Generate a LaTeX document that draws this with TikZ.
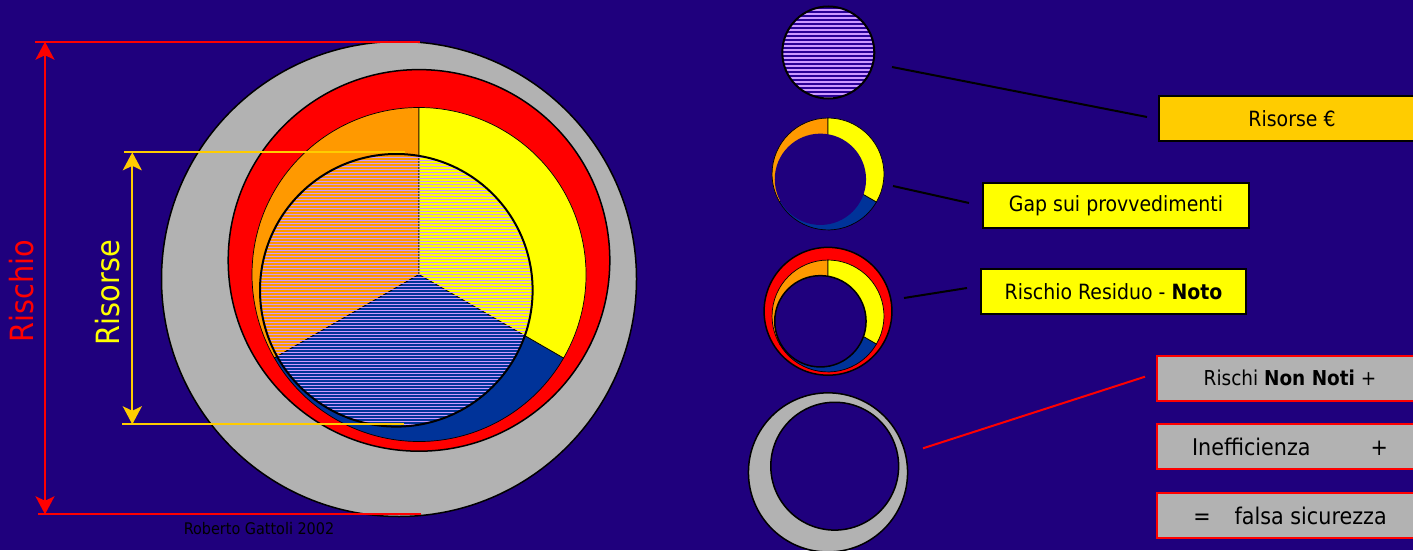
\documentclass[tikz,border=0pt]{standalone}
\usepackage{fontspec}
\setmainfont{DejaVu Sans}[FakeStretch=0.9]
\usetikzlibrary{arrows.meta}
\definecolor{slideBlue}{RGB}{31,0,125}
\definecolor{discBlue}{RGB}{40,0,150}
\definecolor{riskGray}{RGB}{178,178,178}
\definecolor{riskRed}{RGB}{255,0,0}
\definecolor{pieOrange}{RGB}{255,153,0}
\definecolor{pieYellow}{RGB}{255,255,0}
\definecolor{pieBlue}{RGB}{0,51,153}
\definecolor{stripeLilac}{RGB}{204,153,255}
\definecolor{resGold}{RGB}{255,204,0}
\newcommand{\sideFont}{\fontsize{32}{36}\selectfont}
\newcommand{\calloutFont}{\fontsize{21}{24}\selectfont}
\newcommand{\bigCalloutFont}{\fontsize{23}{26}\selectfont}
\newcommand{\creditFont}{\fontsize{16}{18}\selectfont}
\tikzset{
  ring line/.style={draw=black,line width=1.5pt},
  sector line/.style={draw=black,line width=0.7pt},
  yellow box/.style={draw=black,line width=2pt,fill=pieYellow,minimum width=266pt,minimum height=45pt,inner sep=0pt,font=\calloutFont,text=black},
  gold box/.style={yellow box,fill=resGold},
  gray box/.style={draw=riskRed,line width=2pt,fill=riskGray,minimum width=266pt,minimum height=45pt,inner sep=0pt,font=\calloutFont,text=black},
  size arrow/.style={{Stealth[length=18pt,width=19pt,inset=4.5pt]}-{Stealth[length=18pt,width=19pt,inset=4.5pt]},line width=2.3pt},
  extent line/.style={line width=2.3pt},
  call line/.style={draw=black,line width=2pt}
}
\newcommand{\pieSectors}{%
  \filldraw[fill=pieOrange,sector line] (0,0) -- (90:167) arc[start angle=90,end angle=210,radius=167] -- cycle;
  \filldraw[fill=pieBlue,sector line] (0,0) -- (210:167) arc[start angle=210,end angle=330,radius=167] -- cycle;
  \filldraw[fill=pieYellow,sector line] (0,0) -- (330:167) arc[start angle=330,end angle=450,radius=167] -- cycle;}

\begin{document}
\begin{tikzpicture}[x=1pt,y=1pt]
  \useasboundingbox (0,0) rectangle (1413,550);
  \fill[slideBlue] (0,0) rectangle (1413,550);

  \begin{scope}[shift={(419,275.5)}]
    \filldraw[fill=riskGray,ring line] (-20,-4.5) circle[radius=237.5];
    \filldraw[fill=riskRed,ring line] (0,14.1) circle[radius=190.8];
    \pieSectors
    \begin{scope}
      \clip (-22.7,-15.8) circle[radius=136.3];
      \pieSectors
      \foreach \k in {0,...,92}
        \draw[stripeLilac,line width=1.2pt] (-160,-153+3*\k) -- (115,-153+3*\k);
    \end{scope}
    \draw[line width=2pt] (-22.7,-15.8) circle[radius=136.3];
  \end{scope}

  \coordinate (rischioTop) at (45,508.3);
  \coordinate (rischioBot) at (45,35.7);
  \coordinate (risorseTop) at (132.3,397.7);
  \coordinate (risorseBot) at (132.3,125.7);
  \draw[riskRed,extent line] (35,508.3) -- (420,508.3);
  \draw[riskRed,extent line] (38,35.7) -- (421,35.7);
  \draw[riskRed,size arrow] (rischioBot) -- (rischioTop);
  \draw[resGold,extent line] (124,397.7) -- (405,397.7);
  \draw[resGold,extent line] (122,125.7) -- (404,125.7);
  \draw[resGold,size arrow] (risorseBot) -- (risorseTop);
  \node[rotate=90,text=riskRed,font=\sideFont] (rischioLabel) at (22,259) {Rischio};
  \node[rotate=90,text=pieYellow,font=\sideFont] (risorseLabel) at (108,257.5) {Risorse};
  \node[text=black,font=\creditFont] (credit) at (259,21) {Roberto Gattoli 2002};

  \begin{scope}
    \clip (828.3,497.5) circle[radius=46];
    \fill[discBlue] (828.3,497.5) circle[radius=46];
    \foreach \k in {0,...,23}
      \draw[stripeLilac,line width=1.8pt] (780,452+4*\k) -- (876,452+4*\k);
  \end{scope}
  \draw[line width=2pt] (828.3,497.5) circle[radius=46];

  \begin{scope}[shift={(828,376)},scale=0.335]
    \pieSectors
    \fill[slideBlue] (-22.7,-15.8) circle[radius=136.3];
  \end{scope}

  \begin{scope}[shift={(828,234)},scale=0.335]
    \filldraw[fill=riskRed,ring line] (0,14.1) circle[radius=190.8];
    \pieSectors
    \filldraw[fill=slideBlue,ring line] (-22.7,-15.8) circle[radius=136.3];
  \end{scope}

  \begin{scope}[shift={(834.7,79.1)},scale=0.335]
    \filldraw[fill=riskGray,ring line] (-20,-4.5) circle[radius=237.5];
    \filldraw[fill=slideBlue,ring line] (0,14.1) circle[radius=190.8];
  \end{scope}

  \node[gold box] (risorseBox) at (1292,431) {Risorse €};
  \node[yellow box] (gapBox) at (1116,344.5) {Gap sui provvedimenti};
  \node[yellow box,minimum width=265pt] (residuoBox) at (1113.5,258.5) {Rischio Residuo - \textbf{Noto}};
  \node[gray box,font=\fontsize{20.5}{23}\selectfont] (nonNotiBox) at (1290,171.7) {Rischi \textbf{Non Noti} +};
  \node[gray box,font=\bigCalloutFont] (ineffBox) at (1290,103.5) {Inefficienza\hspace{60pt}+};
  \node[gray box,font=\bigCalloutFont] (falsaBox) at (1290,34.5) {=\hspace{24pt}falsa sicurezza};

  \coordinate (risorseFrom) at (892,483);
  \coordinate (risorseTip) at (1147,433);
  \coordinate (gapFrom) at (893,364);
  \coordinate (gapTip) at (969,347);
  \coordinate (residuoFrom) at (904,252);
  \coordinate (residuoTip) at (967,262);
  \coordinate (nonNotiFrom) at (923,101.7);
  \coordinate (nonNotiTip) at (1145,173.3);
  \draw[call line] (risorseFrom) -- (risorseTip);
  \draw[call line] (gapFrom) -- (gapTip);
  \draw[call line] (residuoFrom) -- (residuoTip);
  \draw[call line,draw=riskRed] (nonNotiFrom) -- (nonNotiTip);
\end{tikzpicture}
\end{document}
